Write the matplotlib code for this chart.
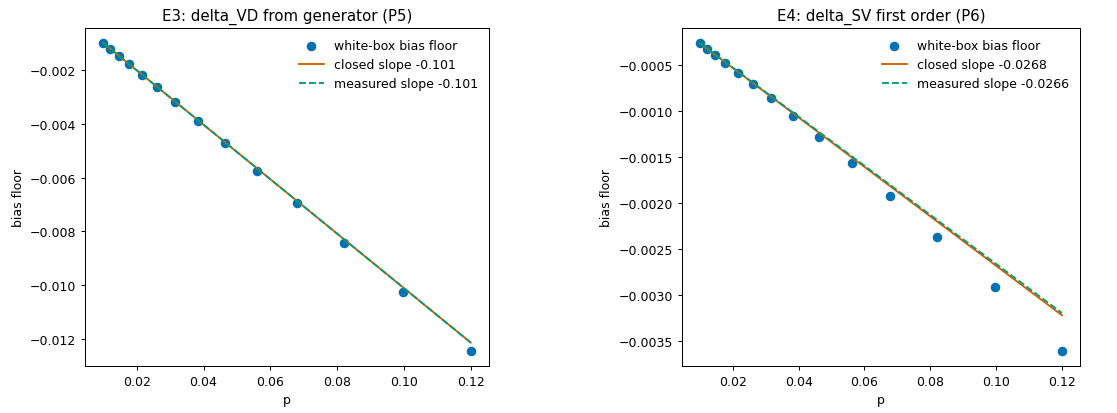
import matplotlib
matplotlib.use("Agg")
import matplotlib.pyplot as plt
import numpy as np

p = [0.01, 0.0121, 0.0147, 0.0178, 0.0215, 0.0261, 0.0316, 0.0382,
     0.0463, 0.0561, 0.0679, 0.0822, 0.0996, 0.12]
bias_e3 = [-0.00101, -0.00122, -0.00149, -0.00180, -0.00218, -0.00264, -0.00321,
           -0.00389, -0.00472, -0.00574, -0.00693, -0.00842, -0.01024, -0.01242]
bias_e4 = [-0.000268, -0.000327, -0.000399, -0.000482, -0.000587, -0.000712, -0.000864,
           -0.001055, -0.001282, -0.001571, -0.001924, -0.002365, -0.002913, -0.00360]
closed_slopes = [-0.101, -0.0268]
measured_slopes = [-0.101, -0.0266]
closed_labels = ["-0.101", "-0.0268"]
measured_labels = ["-0.101", "-0.0266"]
titles = ["E3: delta_VD from generator (P5)", "E4: delta_SV first order (P6)"]

BLUE = "#0173B2"
ORANGE = "#D55E00"
GREEN = "#029E73"

fig = plt.figure(figsize=(1117 / 90, 414 / 90), dpi=90)
positions = [[0.0761, 0.1135, 0.3617, 0.8172], [0.6103, 0.1135, 0.3566, 0.8172]]
pa = np.array(p)
for i, bias in enumerate([bias_e3, bias_e4]):
    ax = fig.add_axes(positions[i])
    ax.scatter(p, bias, color=BLUE, s=44, label="white-box bias floor", zorder=2)
    ax.plot(p, closed_slopes[i] * pa, color=ORANGE, lw=1.5,
            label=f"closed slope {closed_labels[i]}", zorder=3)
    ax.plot(p, measured_slopes[i] * pa, color=GREEN, lw=1.5, ls="--",
            label=f"measured slope {measured_labels[i]}", zorder=4)
    ax.set_title(titles[i])
    ax.set_xlabel("p")
    ax.set_ylabel("bias floor")
    ax.legend(frameon=False, loc="upper right")

fig.savefig("out.png", dpi=90)
